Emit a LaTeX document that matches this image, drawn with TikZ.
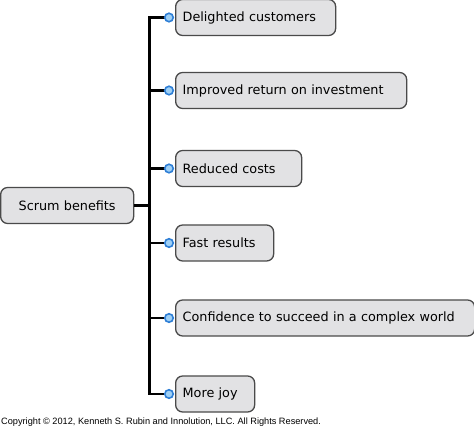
\documentclass[tikz,border=0pt]{standalone}
\usepackage{fontspec}
\setmainfont{Liberation Sans}
\newfontfamily\handfont{DejaVu Sans}
\definecolor{boxfill}{HTML}{E2E2E4}
\definecolor{boxline}{HTML}{4A4A4A}
\definecolor{dotline}{HTML}{2F7FD6}
\definecolor{dotfill}{HTML}{9FD0F5}
\begin{document}
\begin{tikzpicture}[x=1pt,y=-1pt,
  box/.style={draw=boxline, fill=boxfill, rounded corners=7pt, line width=1.3pt,
    minimum height=36pt, inner xsep=7pt, inner ysep=0pt, align=left,
    font=\handfont\fontsize{12.8}{15}\selectfont},
  leaf/.style={box, anchor=west},
  link/.style={line width=2.3pt, black},
  dot/.style={circle, draw=dotline, fill=dotfill, line width=1.6pt, minimum size=8.5pt, inner sep=0pt}]
\useasboundingbox (0,0) rectangle (474,430);
\node[box, anchor=west, text width=119pt, align=center] (root) at (0,205.5) {Scrum benefits};
\node[leaf, text width=146pt] (b1) at (175,17.5) {Delighted customers};
\node[leaf, text width=217pt] (b2) at (175,90.5) {Improved return on investment};
\node[leaf, text width=112pt] (b3) at (175,168.5) {Reduced costs};
\node[leaf, text width=84pt] (b4) at (175,243) {Fast results};
\node[leaf, text width=285pt] (b5) at (175,318) {Confidence to succeed in a complex world};
\node[leaf, text width=65pt] (b6) at (175,394) {More joy};
\coordinate (top) at (149.5,17.5);
\coordinate (bot) at (149.5,394);
\coordinate (mid) at (149.5,205.5);
\draw[link, line cap=rect] (top) -- (bot);
\draw[link] (root.east) -- (mid);
\foreach \b in {b1,b2,b3,b4,b5,b6}{
  \draw[link] (149.5,0 |- \b.west) -- ([xshift=-6pt]\b.west);
  \node[dot] (d\b) at ([xshift=-6pt]\b.west) {};
}
\node[anchor=west, inner sep=0pt, font=\fontsize{9.2}{10}\selectfont] (copy) at (1,422) {Copyright \textcopyright{} 2012, Kenneth S. Rubin and Innolution, LLC. All Rights Reserved.};
\end{tikzpicture}
\end{document}
